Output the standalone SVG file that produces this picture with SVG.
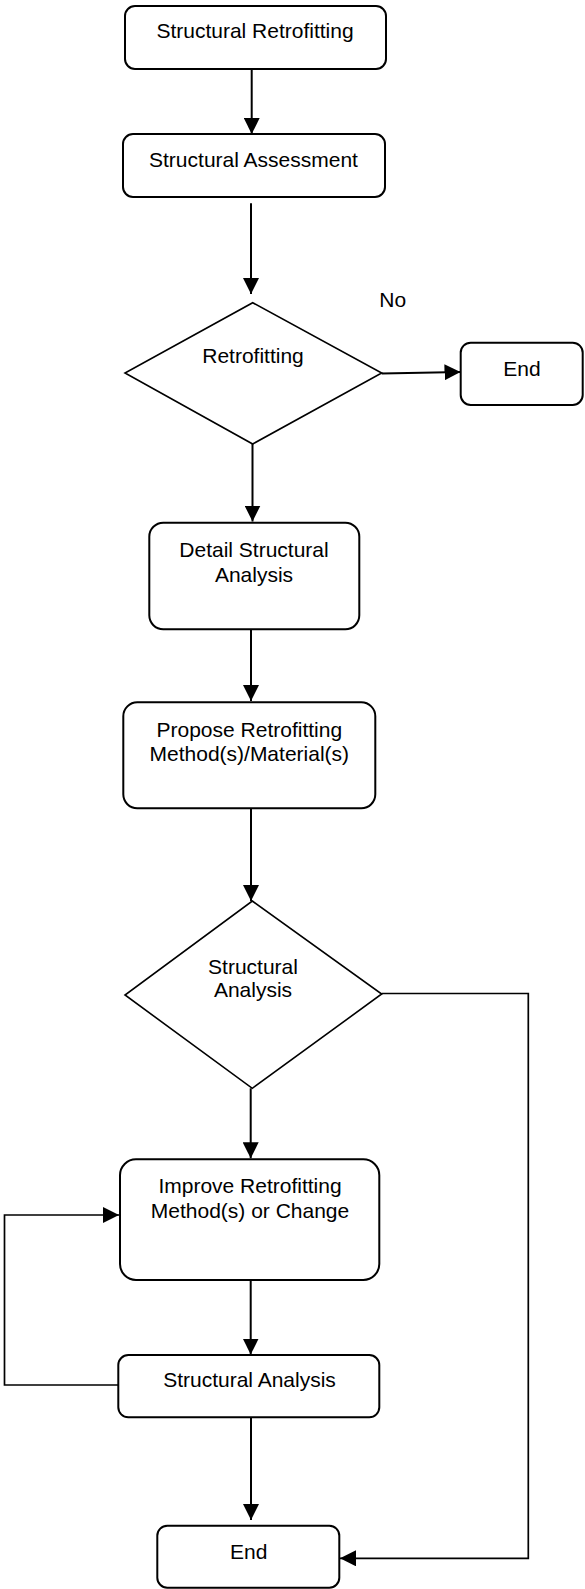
<svg xmlns="http://www.w3.org/2000/svg" width="585" height="1589" viewBox="0 0 585 1589">
<style>
.box{fill:#fff;stroke:#000;stroke-width:2}
.dia{fill:#fff;stroke:#000;stroke-width:1.6}
.t{font-family:"Liberation Sans",Arial,sans-serif;font-size:21px;fill:#000;text-anchor:middle}
.c{fill:none;stroke:#000;stroke-width:2}
.cl{fill:none;stroke:#000;stroke-width:1.7}
</style>
<defs>
<marker id="ah" markerUnits="userSpaceOnUse" markerWidth="16" markerHeight="16" refX="16" refY="8" orient="auto">
<path d="M0,0 L16,8 L0,16 z" fill="#000"/>
</marker>
</defs>
<rect width="585" height="1589" fill="#fff"/>
<g id="connectors">
<line class="c" x1="251.7" y1="69" x2="251.7" y2="134" marker-end="url(#ah)"/>
<line class="c" x1="251" y1="203.3" x2="251" y2="294" marker-end="url(#ah)"/>
<line class="c" x1="381.7" y1="373.5" x2="460.5" y2="372" marker-end="url(#ah)"/>
<line class="c" x1="252.5" y1="444" x2="252.5" y2="521.5" marker-end="url(#ah)"/>
<line class="c" x1="251" y1="629.3" x2="251" y2="701" marker-end="url(#ah)"/>
<line class="c" x1="251" y1="808.3" x2="251" y2="901" marker-end="url(#ah)"/>
<line class="c" x1="250.7" y1="1088.3" x2="250.7" y2="1158.3" marker-end="url(#ah)"/>
<line class="c" x1="250.7" y1="1280" x2="250.7" y2="1354.5" marker-end="url(#ah)"/>
<line class="c" x1="251" y1="1417.3" x2="251" y2="1520" marker-end="url(#ah)"/>
<path class="cl" d="M381.7,993.5 H528.3 V1558.3 H340" marker-end="url(#ah)"/>
<path class="cl" d="M118.3,1385 H4.5 V1215 H119" marker-end="url(#ah)"/>
<text class="t" x="392.7" y="306.7">No</text>
</g>
<g id="n1"><rect class="box" x="125" y="6" width="261" height="63" rx="10"/><text class="t" x="255" y="37.5">Structural Retrofitting</text></g>
<g id="n2"><rect class="box" x="123" y="134" width="262" height="63" rx="10"/><text class="t" x="253.5" y="166.7">Structural Assessment</text></g>
<g id="d1"><polygon class="dia" points="252.7,302.7 381.7,373 252.7,444 125,373"/><text class="t" x="253" y="362.7">Retrofitting</text></g>
<g id="end1"><rect class="box" x="460.7" y="342.7" width="122" height="62.3" rx="10"/><text class="t" x="522" y="376">End</text></g>
<g id="n3"><rect class="box" x="149.3" y="522.7" width="210" height="106.6" rx="14"/><text class="t" x="254" y="556.7">Detail Structural</text><text class="t" x="254" y="581.7">Analysis</text></g>
<g id="n4"><rect class="box" x="123.3" y="702.3" width="252" height="106" rx="14"/><text class="t" x="249.3" y="737.3">Propose Retrofitting</text><text class="t" x="249.3" y="760.7">Method(s)/Material(s)</text></g>
<g id="d2"><polygon class="dia" points="252.3,901 381.7,994 252.3,1088.3 125,995"/><text class="t" x="253" y="974">Structural</text><text class="t" x="253" y="997.3">Analysis</text></g>
<g id="n5"><rect class="box" x="120" y="1159.3" width="259.3" height="120.7" rx="16"/><text class="t" x="250" y="1193.3">Improve Retrofitting</text><text class="t" x="250" y="1218.3">Method(s) or Change</text></g>
<g id="n6"><rect class="box" x="118.3" y="1355" width="261" height="62.3" rx="10"/><text class="t" x="249.5" y="1386.7">Structural Analysis</text></g>
<g id="end2"><rect class="box" x="157.3" y="1525.7" width="182" height="62" rx="10"/><text class="t" x="248.7" y="1559.3">End</text></g>
</svg>
